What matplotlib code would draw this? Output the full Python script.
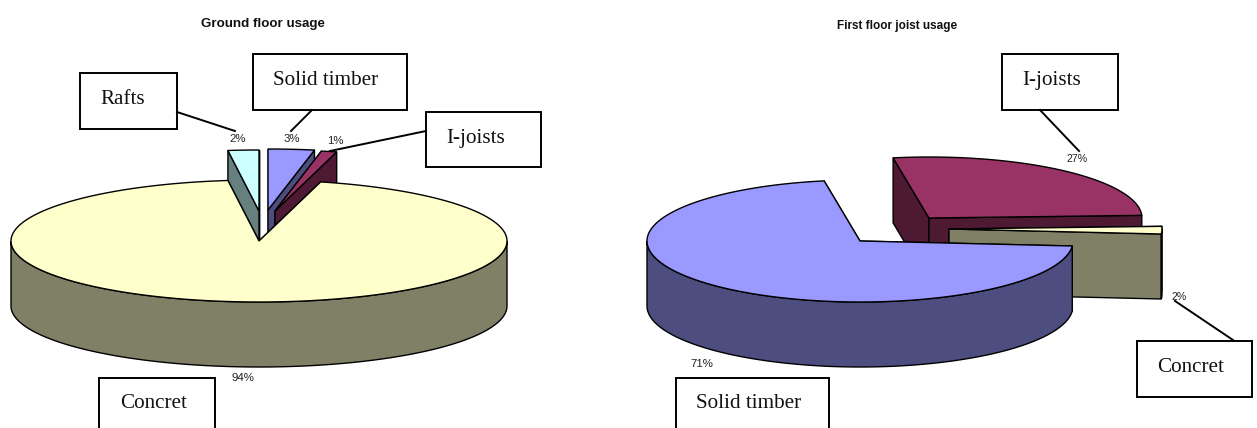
import numpy as np
import matplotlib
matplotlib.use("Agg")
import matplotlib.pyplot as plt
from matplotlib.patches import Polygon, Rectangle

# shares in percent, clockwise from the first slice
ground_labels = ["Solid timber", "I-joists", "Concret", "Rafts"]
ground_values = [3, 1, 94, 2]
first_labels = ["I-joists", "Concret", "Solid timber"]
first_values = [27, 2, 71]

colors = {
    "Concret": ("#FFFFCC", "#808066"),
    "Solid timber": ("#9999FF", "#4D4D80"),
    "I-joists": ("#993366", "#4D1933"),
    "Rafts": ("#CCFFFF", "#668080"),
}

RY = 61
DEPTH = 65

fig = plt.figure(figsize=(12.57, 4.28), dpi=100)
ax = fig.add_axes([0, 0, 1, 1])
ax.set_xlim(0, 1257)
ax.set_ylim(428, 0)
ax.axis("off")


def rim_point(cx, cy, rx, a):
    a = np.radians(a)
    return cx + rx * np.sin(a), cy - RY * np.cos(a)


def draw_slice(cx, cy, rx, a0, a1, top, side):
    # walls first (far one behind), then the outer rim, then the top face
    walls = sorted([a0, a1], key=lambda a: rim_point(cx, cy, rx, a)[1])
    for a in walls:
        x, y = rim_point(cx, cy, rx, a)
        ax.add_patch(Polygon([(cx, cy), (x, y), (x, y + DEPTH), (cx, cy + DEPTH)],
                             fc=side, ec="black", lw=1, joinstyle="round"))
    r0, r1 = max(a0, 90), min(a1, 270)
    if r1 > r0:
        t = np.linspace(r0, r1, 120)
        x, y = rim_point(cx, cy, rx, t)
        pts = np.r_[np.c_[x, y], np.c_[x, y + DEPTH][::-1]]
        ax.add_patch(Polygon(pts, fc=side, ec="black", lw=1))
    t = np.linspace(a0, a1, 200)
    x, y = rim_point(cx, cy, rx, t)
    pts = np.r_[[(cx, cy)], np.c_[x, y]]
    ax.add_patch(Polygon(pts, fc=top, ec="black", lw=1))


def draw_pie(labels, values, start, rx, centers):
    spans = np.array(values) * 3.6
    a0 = start + np.r_[0, np.cumsum(spans)[:-1]]
    # biggest slice goes last, it sits in front of the pulled out ones
    order = sorted(range(len(values)), key=lambda i: values[i] == max(values))
    for i in order:
        top, side = colors[labels[i]]
        draw_slice(centers[i][0], centers[i][1], rx, a0[i], a0[i] + spans[i], top, side)


draw_pie(ground_labels, ground_values, 0, 248,
         [(268, 210), (275, 211), (259, 241), (259, 211)])
draw_pie(first_labels, first_values, -9.7, 213,
         [(929, 218), (949, 229), (860, 241)])

# titles
ax.text(263, 23.5, "Ground floor usage", family="Liberation Sans", weight="bold",
        fontsize=9.6, ha="center", va="center", color="#111111")
ax.text(897, 26, "First floor joist usage", family="Liberation Sans", weight="bold",
        fontsize=8.5, ha="center", va="center", color="#111111")

# percent labels
pct_pos = [(3, 292, 139, 8.2), (2, 238, 139, 8.2), (1, 335, 141, 8.2), (94, 243, 378, 8.2),
           (27, 1077, 159, 7.6), (2, 1179, 297, 7.6), (71, 702, 364, 8.2)]
for v, x, y, size in pct_pos:
    ax.text(x, y, f"{v}%", family="Liberation Sans", fontsize=size,
            ha="center", va="center", color="#222222")

# callout boxes: x0, y0, x1, y1, text centre x, text baseline y
boxes = [("Rafts", 80, 73, 177, 129, 123, 104),
         ("Solid timber", 253, 54, 407, 110, 326, 85),
         ("I-joists", 426, 112, 541, 167, 476, 143),
         ("Concret", 99, 378, 215, 440, 154, 408),
         ("I-joists", 1002, 54, 1118, 110, 1052, 85),
         ("Solid timber", 676, 378, 829, 440, 749, 408),
         ("Concret", 1137, 341, 1252, 397, 1191, 372)]
for name, x0, y0, x1, y1, tx, ty in boxes:
    ax.add_patch(Rectangle((x0, y0), x1 - x0, y1 - y0, fc="white", ec="black", lw=1.4))
    ax.text(tx, ty, name, family="Liberation Serif", fontsize=15.2, ha="center", va="baseline",
            color="#111111")

# leader lines from boxes to percent labels
leaders = [(177, 112, 235, 131), (311, 111, 291, 131), (426, 131, 330, 151),
           (1040, 110, 1079, 151), (1175, 301, 1233, 340)]
for x0, y0, x1, y1 in leaders:
    ax.plot([x0, x1], [y0, y1], color="black", lw=1.4)

fig.savefig("out.png", dpi=100)
